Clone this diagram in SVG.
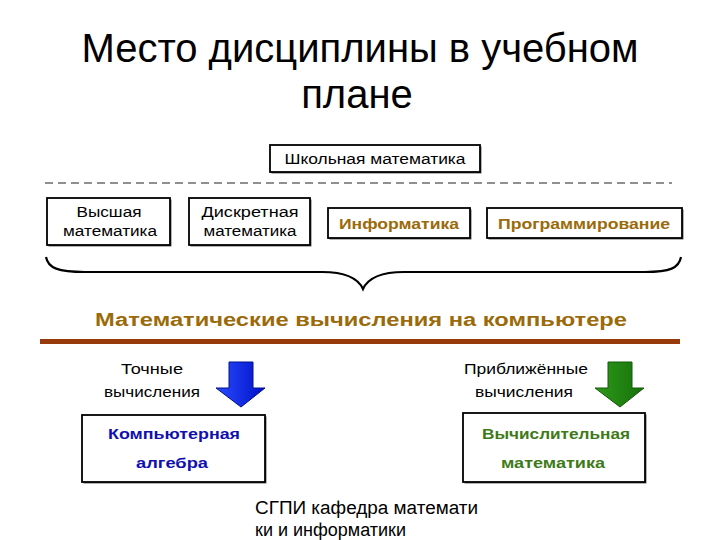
<svg xmlns="http://www.w3.org/2000/svg" width="720" height="540" viewBox="0 0 720 540">
<defs>
<linearGradient id="gb" x1="0" y1="0" x2="1" y2="0">
<stop offset="0" stop-color="#2A4CFF"/><stop offset="1" stop-color="#0010C8"/>
</linearGradient>
<linearGradient id="gg" x1="0" y1="0" x2="1" y2="0">
<stop offset="0" stop-color="#2E9A1A"/><stop offset="1" stop-color="#16700A"/>
</linearGradient>
</defs>
<style>
.t{font-family:"Liberation Sans",Arial,sans-serif;}
.box{fill:#fff;stroke:#000;stroke-width:1.8;}
.sh{fill:#666;}
.n{font-size:15.5px;fill:#000;text-anchor:middle;}
.g{font-size:15.5px;font-weight:bold;fill:#9B6A0A;text-anchor:middle;}
.bl{font-size:15.5px;font-weight:bold;fill:#1010B0;text-anchor:middle;}
.gr{font-size:15.5px;font-weight:bold;fill:#3E7A18;text-anchor:middle;}
</style>
<rect width="720" height="540" fill="#fff"/>
<g id="title" class="t">
<text x="360" y="62" font-size="40" text-anchor="middle" fill="#000">Место дисциплины в учебном</text>
<text x="357" y="108" font-size="40" text-anchor="middle" fill="#000">плане</text>
</g>
<g id="school">
<rect class="sh" x="271.5" y="146.5" width="210" height="27"/>
<rect class="box" x="270" y="145" width="210" height="27"/>
<text class="t n" x="375" y="164" textLength="181" lengthAdjust="spacingAndGlyphs">Школьная математика</text>
</g>
<g id="dash">
<line x1="45" y1="183" x2="672" y2="183" stroke="#222" stroke-width="1.2" stroke-dasharray="8,5"/>
</g>
<g id="vysshaya">
<rect class="sh" x="48.5" y="199.5" width="123" height="47"/>
<rect class="box" x="47" y="198" width="123" height="47"/>
<text class="t n" x="109" y="217" textLength="65" lengthAdjust="spacingAndGlyphs">Высшая</text>
<text class="t n" x="110" y="236" textLength="94" lengthAdjust="spacingAndGlyphs">математика</text>
</g>
<g id="diskr">
<rect class="sh" x="190.5" y="199.5" width="121" height="47"/>
<rect class="box" x="189" y="198" width="121" height="47"/>
<text class="t n" x="250" y="217" textLength="97" lengthAdjust="spacingAndGlyphs">Дискретная</text>
<text class="t n" x="250" y="236" textLength="93" lengthAdjust="spacingAndGlyphs">математика</text>
</g>
<g id="inform">
<rect class="sh" x="329.5" y="209.5" width="142" height="30"/>
<rect class="box" x="328" y="208" width="142" height="30"/>
<text class="t g" x="399" y="228.5" textLength="120" lengthAdjust="spacingAndGlyphs">Информатика</text>
</g>
<g id="program">
<rect class="sh" x="488.5" y="209.5" width="195" height="30"/>
<rect class="box" x="487" y="208" width="195" height="30"/>
<text class="t g" x="584" y="228.5" textLength="172" lengthAdjust="spacingAndGlyphs">Программирование</text>
</g>
<g id="connectors">
<path d="M46,257 C48,268 58,272 85,272 L322,272 C346,272 358,278 363,289 C368,278 380,272 404,272 L645,272 C670,272 679,268 681,257" fill="none" stroke="#000" stroke-width="2.2"/>
<path d="M229,362 H253 V388 H265 L241,407 L216,388 H229 Z" fill="url(#gb)" stroke="#00108A" stroke-width="1"/>
<path d="M608,362 H632 V388 H644 L620,407 L595,388 H608 Z" fill="url(#gg)" stroke="#145A0A" stroke-width="1"/>
</g>
<g id="mathcomp">
<text class="t" x="361" y="326" font-size="17.5" font-weight="bold" fill="#9B6A0A" text-anchor="middle" textLength="532" lengthAdjust="spacingAndGlyphs">Математические вычисления на компьютере</text>
<rect x="40" y="339" width="640" height="5" fill="#993A0C"/>
</g>
<g id="tochnye">
<text class="t n" x="152" y="374" textLength="62" lengthAdjust="spacingAndGlyphs">Точные</text>
<text class="t n" x="152" y="397" textLength="96" lengthAdjust="spacingAndGlyphs">вычисления</text>
</g>
<g id="priblizh">
<text class="t n" x="526" y="374" textLength="124" lengthAdjust="spacingAndGlyphs">Приближённые</text>
<text class="t n" x="524" y="397" textLength="98" lengthAdjust="spacingAndGlyphs">вычисления</text>
</g>
<g id="kompalg">
<rect class="sh" x="83.5" y="416.5" width="183" height="67"/>
<rect class="box" x="82" y="415" width="183" height="67"/>
<text class="t bl" x="174" y="439" textLength="132" lengthAdjust="spacingAndGlyphs">Компьютерная</text>
<text class="t bl" x="172" y="468" textLength="72" lengthAdjust="spacingAndGlyphs">алгебра</text>
</g>
<g id="vychmat">
<rect class="sh" x="464.5" y="414.5" width="182" height="69"/>
<rect class="box" x="463" y="413" width="182" height="69"/>
<text class="t gr" x="556" y="439" textLength="148" lengthAdjust="spacingAndGlyphs">Вычислительная</text>
<text class="t gr" x="553" y="468" textLength="104" lengthAdjust="spacingAndGlyphs">математика</text>
</g>
<g id="footer" class="t">
<text x="255" y="514" font-size="18" fill="#000" textLength="223" lengthAdjust="spacingAndGlyphs">СГПИ кафедра математи</text>
<text x="255" y="536" font-size="18" fill="#000">ки и информатики</text>
</g>
</svg>
